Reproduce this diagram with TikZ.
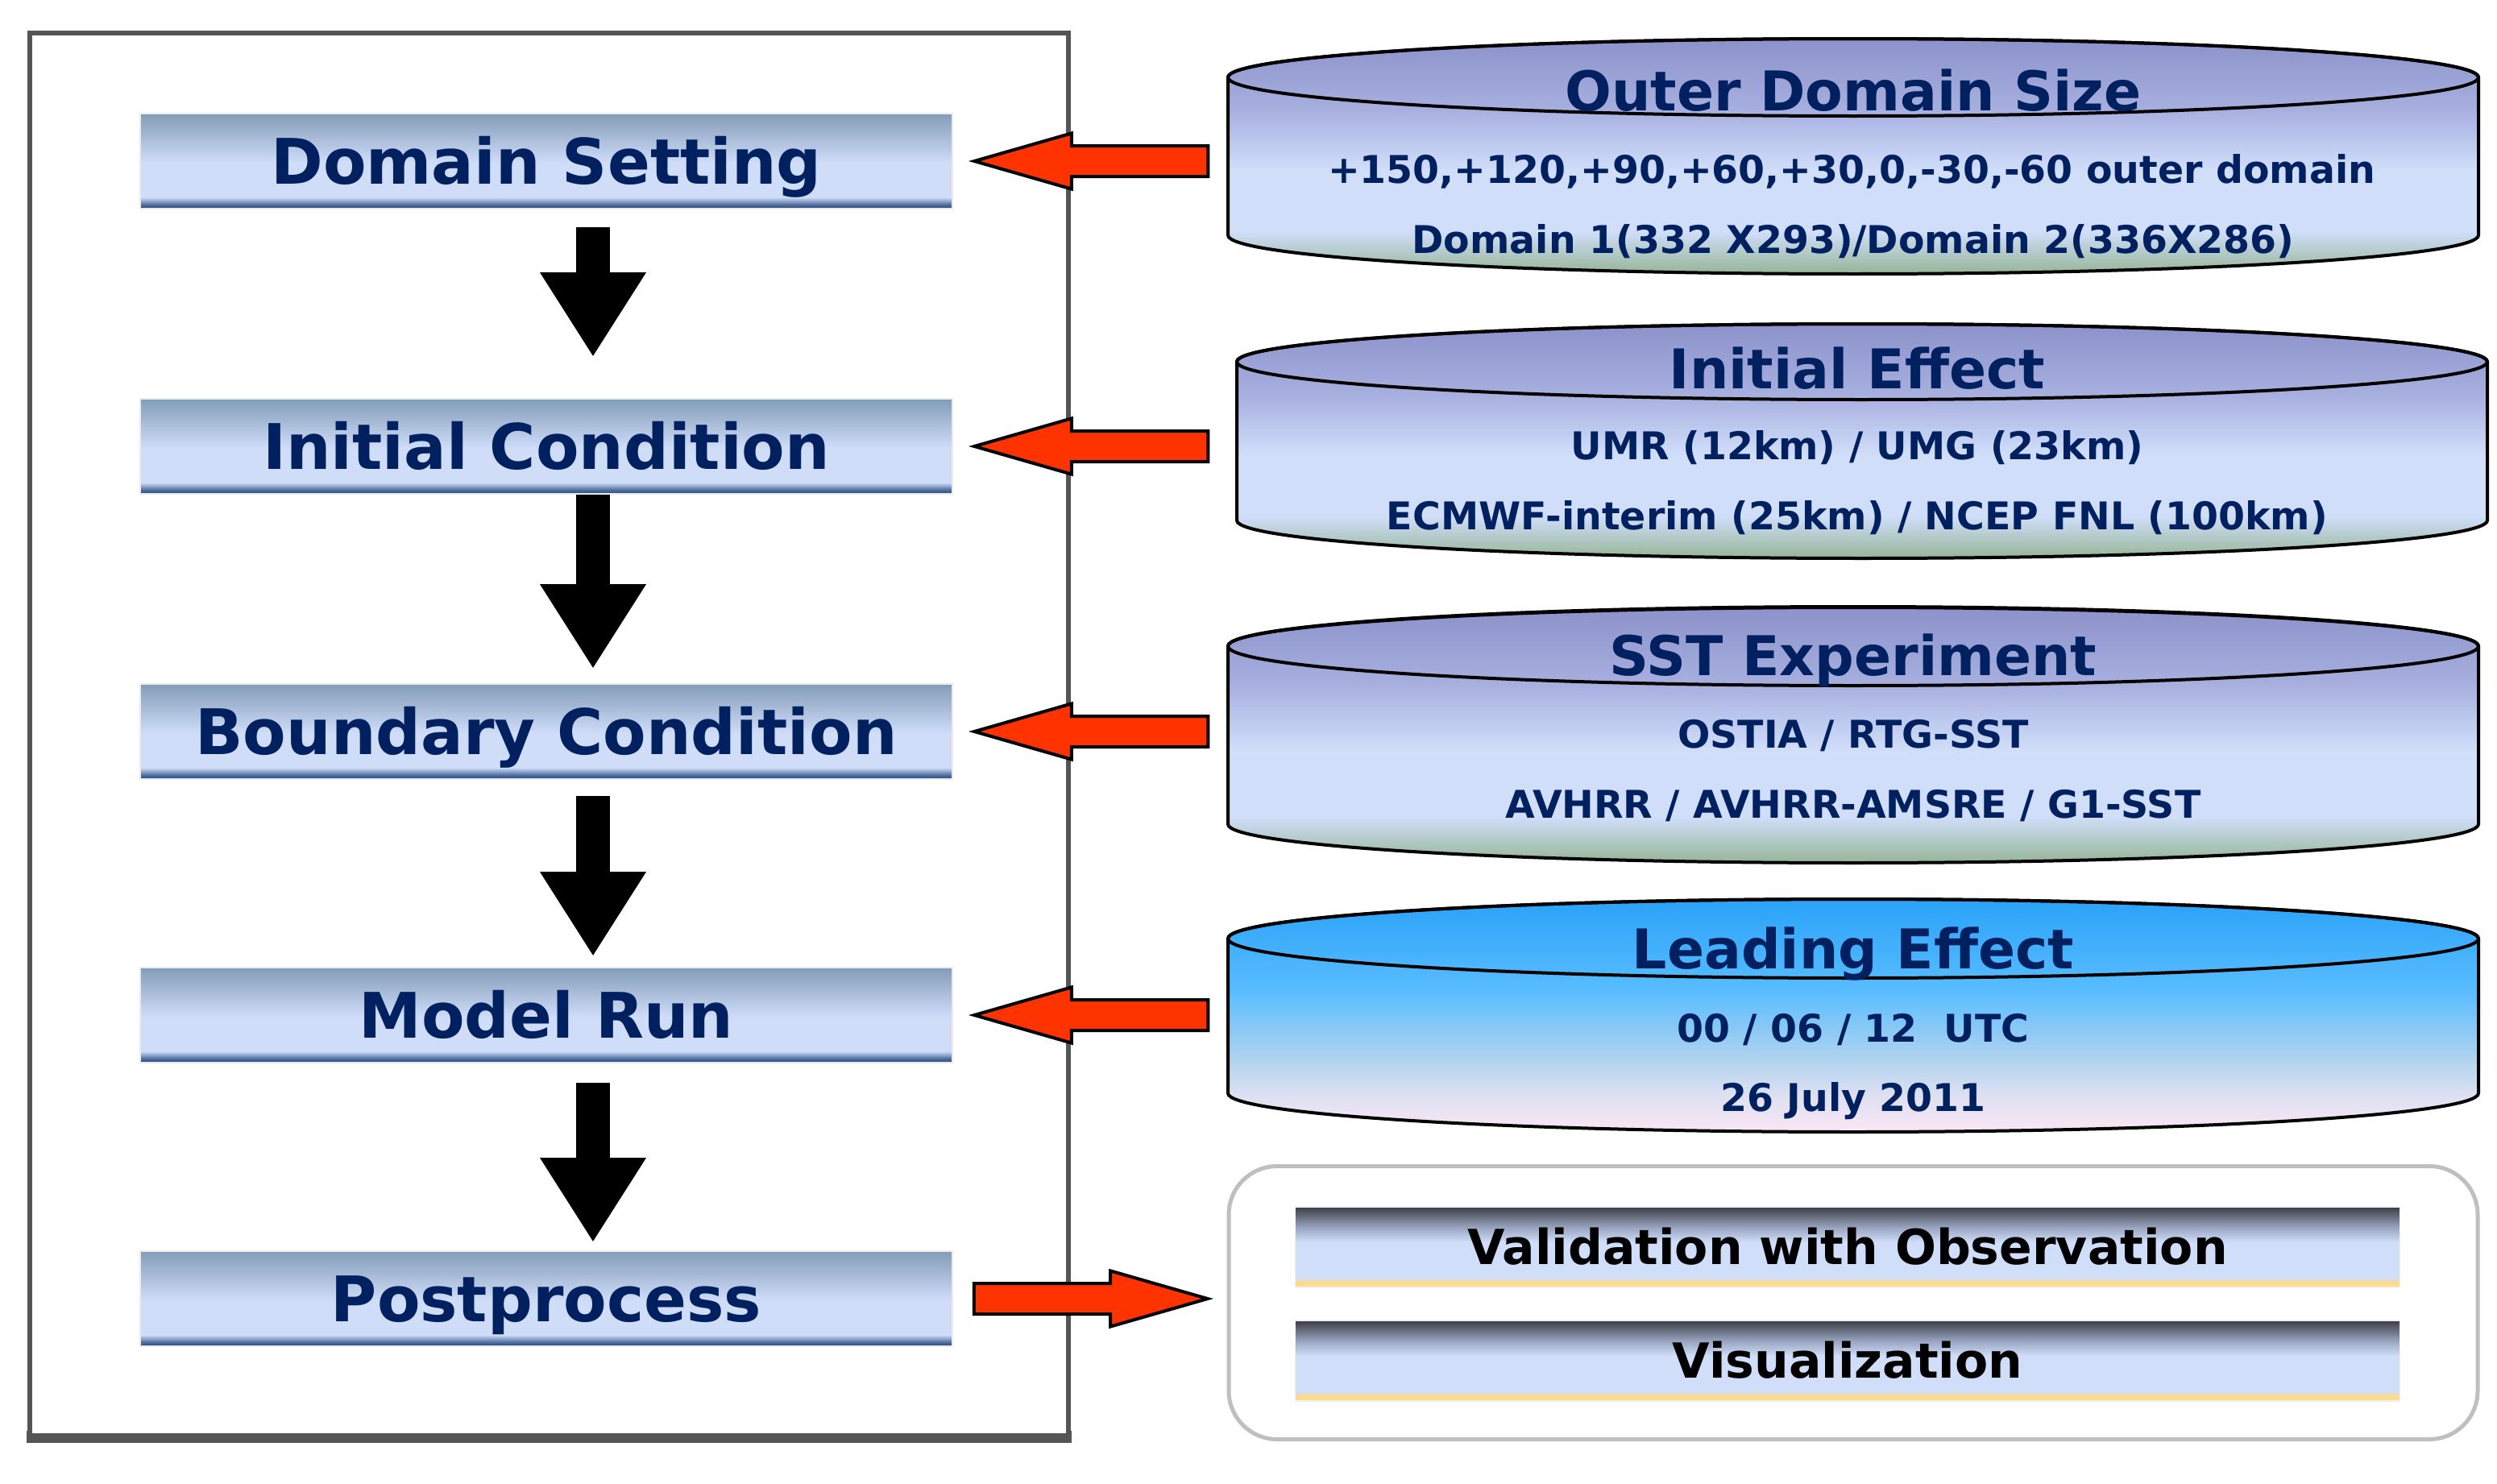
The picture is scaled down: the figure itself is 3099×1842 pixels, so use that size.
\documentclass[tikz,border=0pt]{standalone}
\usepackage{fontspec}
\setmainfont{DejaVu Sans}
\usepackage{tikz}
\usetikzlibrary{positioning, shapes.arrows, arrows.meta}

\definecolor{navy}{HTML}{002060}
\definecolor{redfill}{HTML}{FF3300}
\definecolor{framegray}{HTML}{555555}
\definecolor{postgray}{HTML}{BFBFBF}
\definecolor{steptop}{HTML}{829DB9}
\definecolor{stepmid}{HTML}{A9BCD8}
\definecolor{steplight}{HTML}{CFDDF9}
\definecolor{stepdk}{HTML}{4B6A99}
\definecolor{stepbot}{HTML}{2C4B7B}
\definecolor{cyltop}{HTML}{8C92CA}
\definecolor{cylmid}{HTML}{A7AFDF}
\definecolor{cyllight}{HTML}{D0DEFA}
\definecolor{cylbot}{HTML}{96B596}
\definecolor{leadtop}{HTML}{2AA2F8}
\definecolor{leadmid}{HTML}{5ABDFF}
\definecolor{leadlt}{HTML}{A8D1F0}
\definecolor{leadpk}{HTML}{DDE0F2}
\definecolor{leadbot}{HTML}{FBE6F4}
\definecolor{bartop}{HTML}{3C3C44}
\definecolor{barmid}{HTML}{9AA6C2}
\definecolor{barlight}{HTML}{D0DEFA}
\definecolor{baryel}{HTML}{FFD98A}
\definecolor{barbot}{HTML}{FFE9B8}

\pgfdeclareverticalshading{stepshade}{100bp}{color(0bp)=(stepbot); color(25bp)=(stepbot); color(27bp)=(stepdk); color(31bp)=(steplight); color(49bp)=(steplight); color(62bp)=(stepmid); color(75bp)=(steptop); color(100bp)=(steptop)}
\pgfdeclareverticalshading{cylshade}{100bp}{color(0bp)=(cylbot); color(25bp)=(cylbot); color(34bp)=(cyllight); color(47bp)=(cyllight); color(60bp)=(cylmid); color(75bp)=(cyltop); color(100bp)=(cyltop)}
\pgfdeclareverticalshading{leadshade}{100bp}{color(0bp)=(leadbot); color(25bp)=(leadbot); color(33bp)=(leadpk); color(42bp)=(leadlt); color(55bp)=(leadmid); color(75bp)=(leadtop); color(100bp)=(leadtop)}
\pgfdeclareverticalshading{barshade}{100bp}{color(0bp)=(barbot); color(25bp)=(barbot); color(26.5bp)=(baryel); color(28bp)=(baryel); color(31bp)=(barlight); color(53bp)=(barlight); color(62bp)=(barmid); color(75bp)=(bartop); color(100bp)=(bartop)}

\begin{document}
\begin{tikzpicture}[x=0.25pt,y=0.25pt,yscale=-1,
  stepbox/.style={shade, shading=stepshade, draw=black!8, line width=0.4pt, minimum width=252pt, minimum height=29.5pt, inner sep=0pt, text height=14.2pt, text depth=0pt, font=\fontsize{19.5}{22}\selectfont\bfseries, text=navy},
  drumtitle/.style={inner sep=0pt, text height=12.4pt, text depth=0pt, font=\fontsize{17}{20}\selectfont\bfseries, text=navy},
  drumtext/.style={inner sep=0pt, text height=8.6pt, text depth=0pt, font=\fontsize{11.85}{14}\selectfont\bfseries, text=navy},
  drumline/.style={draw=black, line width=1pt},
  barbox/.style={shade, shading=barshade, draw=black!6, line width=0.4pt, minimum width=342.75pt, minimum height=25pt, inner sep=0pt, text height=10.9pt, text depth=0pt, font=\fontsize{15}{18}\selectfont\bfseries},
  postbox/.style={draw=postgray, line width=1.25pt, rounded corners=15pt, fill=white, minimum width=387.5pt, minimum height=84.75pt},
  downarrow/.style={line width=10.5pt, -{Triangle[length=26.25pt, width=31pt]}},
  leftarrow/.style={single arrow, shape border rotate=180, draw=black, line width=1pt, fill=redfill, inner sep=0pt, text height=4.25pt, text depth=4.25pt, minimum height=72.5pt, single arrow head extend=3.9pt, single arrow tip angle=32, anchor=tip},
  rightarrow/.style={leftarrow, shape border rotate=0, anchor=tip}]
\useasboundingbox (0,0) rectangle (3099,1842);

% left frame
\fill[framegray] (33,1776) rectangle (1330,1791);
\draw[framegray, line width=1.5pt, fill=white] (37,41) rectangle (1326,1782);

% steps
\node[stepbox] (ds) at (678,200) {Domain Setting};
\node[stepbox] (ic) at (678,554) {Initial Condition};
\node[stepbox] (bc) at (678,908) {Boundary Condition};
\node[stepbox] (mr) at (678,1260) {Model Run};
\node[stepbox] (pp) at (678,1612) {Postprocess};

\coordinate (ax) at (736,0);
\draw[downarrow, shorten <=5.5pt, shorten >=12.75pt] (ax |- ds.south) -- (ax |- ic.north);
\draw[downarrow, shorten >=4.5pt] (ax |- ic.south) -- (ax |- bc.north);
\draw[downarrow, shorten <=5pt, shorten >=3.25pt] (ax |- bc.south) -- (ax |- mr.north);
\draw[downarrow, shorten <=6pt, shorten >=2.5pt] (ax |- mr.south) -- (ax |- pp.north);

% outer domain size
\draw[drumline, shade, shading=cylshade] (1524,96) -- (1524,292) arc[start angle=180, end angle=0, x radius=776, y radius=48] -- (3076,96) arc[start angle=0, end angle=-180, x radius=776, y radius=48] -- cycle;
\draw[drumline] (2300,96) ellipse [x radius=776, y radius=48];
\node[drumtitle] (ods) at (2300,113) {Outer Domain Size};
\node[drumtext] (ods1) at (2298,210) {+150,+120,+90,+60,+30,0,-30,-60 outer domain};
\node[drumtext] (ods2) at (2300,297) {Domain 1(332 X293)/Domain 2(336X286)};

% initial effect
\draw[drumline, shade, shading=cylshade] (1535,449) -- (1535,646) arc[start angle=180, end angle=0, x radius=776, y radius=47] -- (3087,449) arc[start angle=0, end angle=-180, x radius=776, y radius=47] -- cycle;
\draw[drumline] (2311,449) ellipse [x radius=776, y radius=47];
\node[drumtitle] (ie) at (2305,458) {Initial Effect};
\node[drumtext] (ie1) at (2305,553) {UMR (12km) / UMG (23km)};
\node[drumtext] (ie2) at (2305,640) {ECMWF-interim (25km) / NCEP FNL (100km)};

% sst experiment
\draw[drumline, shade, shading=cylshade] (1524,802) -- (1524,1023) arc[start angle=180, end angle=0, x radius=776, y radius=48] -- (3076,802) arc[start angle=0, end angle=-180, x radius=776, y radius=48] -- cycle;
\draw[drumline] (2300,802) ellipse [x radius=776, y radius=49];
\node[drumtitle] (sst) at (2300,814) {SST Experiment};
\node[drumtext] (sst1) at (2300,911) {OSTIA / RTG-SST};
\node[drumtext] (sst2) at (2300,998) {AVHRR / AVHRR-AMSRE / G1-SST};

% leading effect
\draw[drumline, shade, shading=leadshade] (1524,1165) -- (1524,1357) arc[start angle=180, end angle=0, x radius=776, y radius=48] -- (3076,1165) arc[start angle=0, end angle=-180, x radius=776, y radius=49] -- cycle;
\draw[drumline] (2300,1165) ellipse [x radius=776, y radius=49];
\node[drumtitle] (le) at (2300,1178) {Leading Effect};
\node[drumtext] (le1) at (2300,1276) {00 / 06 / 12~~UTC};
\node[drumtext] (le2) at (2300,1362) {26 July 2011};

% postprocess outputs
\node[postbox] (pb) at (2300,1617) {};
\node[barbox] (vo) at (2293,1548) {Validation with Observation};
\node[barbox] (vz) at (2293,1689) {Visualization};

% red arrows
\coordinate (lx) at (1202,0);
\coordinate (rx) at (1506,0);
\node[leftarrow] (a1) at (lx |- ds.east) {};
\node[leftarrow] (a2) at (lx |- ic.east) {};
\node[leftarrow] (a3) at (lx |- bc.east) {};
\node[leftarrow] (a4) at (lx |- mr.east) {};
\node[rightarrow] (a5) at (rx |- pp.east) {};

\end{tikzpicture}
\end{document}
